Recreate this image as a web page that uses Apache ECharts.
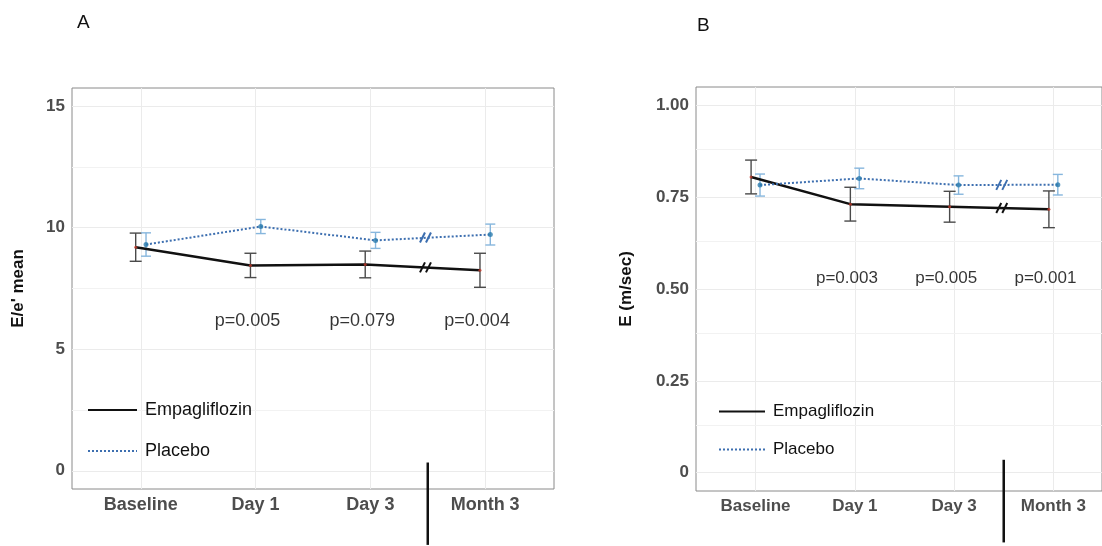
<!DOCTYPE html>
<html><head><meta charset="utf-8">
<script src="https://cdn.jsdelivr.net/npm/echarts@6/dist/echarts.min.js"></script>
<style>html,body{margin:0;padding:0;background:#fff}#c{width:1102px;height:546px}</style>
</head><body><div id="c"></div>
<script>
const categories = ['Baseline', 'Day 1', 'Day 3', 'Month 3'];
const catIdx = [0, 1, 2, 3];
// Panel A: E/e' mean
const empA = [9.2, 8.45, 8.49, 8.25];
const empAErr = [0.58, 0.5, 0.55, 0.7];
const plaA = [9.31, 10.05, 9.48, 9.72];
const plaAErr = [0.48, 0.29, 0.33, 0.43];
const pA = ['p=0.005', 'p=0.079', 'p=0.004'];
const pAy = 6.18;
const yTicksA = [0, 5, 10, 15];
const yMinorA = [2.5, 7.5, 12.5];
const yTickLabelsA = ['0', '5', '10', '15'];
// Panel B: E (m/sec)
const empB = [0.805, 0.731, 0.724, 0.717];
const empBErr = [0.046, 0.046, 0.042, 0.05];
const plaB = [0.783, 0.801, 0.783, 0.784];
const plaBErr = [0.03, 0.028, 0.025, 0.028];
const pB = ['p=0.003', 'p=0.005', 'p=0.001'];
const pBy = 0.53;
const yTicksB = [0, 0.25, 0.5, 0.75, 1.0];
const yMinorB = [0.125, 0.375, 0.625, 0.875];
const yTickLabelsB = ['0', '0.25', '0.50', '0.75', '1.00'];

const DODGE = 0.045;
const BRK = 2.5;
const EMP_C = '#111111', EMP_ERR = '#4a4a4a', EMP_PT = '#c0392b';
const PLA_C = '#3d6fb0', PLA_ERR = '#86b6dd', PLA_PT = '#2a7cae';
const GRIDC = '#ebebeb';
const FONT = 'Liberation Sans, Arial, sans-serif';

function errData(means, errs, off) { return means.map((m, i) => [catIdx[i] + off, m - errs[i], m + errs[i]]); }
function ptData(means, off) { return means.map((m, i) => [catIdx[i] + off, m]); }

function errSeries(idx, means, errs, off, color, half) {
  return {
    type: 'custom', xAxisIndex: idx, yAxisIndex: idx, z: 3, silent: true,
    data: errData(means, errs, off),
    renderItem(params, api) {
      const x = api.value(0), lo = api.value(1), hi = api.value(2);
      const t = api.coord([x, hi]), b = api.coord([x, lo]);
      const st = { stroke: color, lineWidth: 1.4 };
      return { type: 'group', children: [
        { type: 'line', shape: { x1: t[0], y1: t[1], x2: b[0], y2: b[1] }, style: st },
        { type: 'line', shape: { x1: t[0] - half, y1: t[1], x2: t[0] + half, y2: t[1] }, style: st },
        { type: 'line', shape: { x1: b[0] - half, y1: b[1], x2: b[0] + half, y2: b[1] }, style: st }
      ]};
    }
  };
}
function breakSeries(idx, means, color) {
  const y = (means[2] + means[3]) / 2;
  return {
    type: 'custom', xAxisIndex: idx, yAxisIndex: idx, z: 6, silent: true,
    data: [[BRK - 0.02, y]],
    renderItem(params, api) {
      const c = api.coord([api.value(0), api.value(1)]);
      const st = { stroke: color, lineWidth: 2 };
      const ch = [-3, 3].map(d => ({ type: 'line', shape: { x1: c[0] + d - 2.5, y1: c[1] + 5, x2: c[0] + d + 2.5, y2: c[1] - 5 }, style: st }));
      return { type: 'group', children: ch };
    }
  };
}
function gridLines(idx, yMajor, yMinor) {
  const vals = [
    ...catIdx.map(v => ({ xAxis: v })),
    ...yMajor.map(v => ({ yAxis: v })),
    ...yMinor.map(v => ({ yAxis: v, lineStyle: { color: '#f2f2f2', width: 1, type: 'solid' } }))
  ];
  return {
    type: 'line', xAxisIndex: idx, yAxisIndex: idx, data: [], z: 1, silent: true,
    markLine: {
      z: 1, silent: true, symbol: ['none', 'none'], animation: false, label: { show: false },
      lineStyle: { color: GRIDC, width: 1, type: 'solid' },
      emphasis: { disabled: true },
      data: vals
    }
  };
}
function lineSeries(idx, name, means, off, color, type, width) {
  return { type: 'line', name, xAxisIndex: idx, yAxisIndex: idx, z: 4, symbol: 'none',
    data: ptData(means, off), lineStyle: { color, width, type }, itemStyle: { color }, silent: true, animation: false };
}
function pointSeries(idx, means, off, color, size) {
  return { type: 'scatter', xAxisIndex: idx, yAxisIndex: idx, z: 5, symbol: 'circle', symbolSize: size,
    data: ptData(means, off), itemStyle: { color }, silent: true };
}
function pSeries(idx, labels, y, off, fs) {
  return { type: 'scatter', xAxisIndex: idx, yAxisIndex: idx, z: 5, symbolSize: 0, silent: true,
    data: labels.map((t, i) => ({ value: [catIdx[i + 1] + off, y], label: { formatter: t } })),
    label: { show: true, position: 'inside', color: '#000', fontSize: fs, fontFamily: FONT } };
}
function breakLine(idx, top, bottom) {
  return { type: 'line', xAxisIndex: idx, yAxisIndex: idx, z: 6, symbol: 'none', clip: false, silent: true,
    data: [[BRK, top], [BRK, bottom]], lineStyle: { color: '#111', width: 2.5 } };
}
function xAxisCfg(idx, max, fs) {
  return { type: 'value', gridIndex: idx, min: -0.6, max,
    axisLine: { show: false }, splitLine: { show: false },
    axisTick: { show: true, length: 3, lineStyle: { color: '#555' }, customValues: catIdx },
    axisLabel: { customValues: catIdx, formatter: v => categories[Math.round(v)], margin: 7,
      fontSize: fs, fontWeight: 'bold', color: '#4d4d4d', fontFamily: FONT } };
}
function yAxisCfg(idx, min, max, ticks, labels, name, gap, fs) {
  return { type: 'value', gridIndex: idx, min, max,
    name, nameLocation: 'middle', nameRotate: 90, nameGap: gap,
    nameTextStyle: { fontSize: 17, fontWeight: 'bold', color: '#111', fontFamily: FONT },
    axisLine: { show: false }, splitLine: { show: false },
    axisTick: { show: true, length: 3, lineStyle: { color: '#555' }, customValues: ticks },
    axisLabel: { customValues: ticks, formatter: v => labels[ticks.indexOf(v)], margin: 7,
      fontSize: fs, fontWeight: 'bold', color: '#4d4d4d', fontFamily: FONT } };
}
function legendCfg(left, top, w, gap, fs) {
  return { left, top, orient: 'vertical', padding: 0, itemWidth: w, itemHeight: 14, itemGap: gap,
    z: 10, itemStyle: { opacity: 0 },
    textStyle: { fontSize: fs, color: '#111', fontFamily: FONT, padding: [0, 0, 0, 3] },
    data: ['Empagliflozin', 'Placebo'], selectedMode: false };
}

const chart = echarts.init(document.getElementById('c'), null, { renderer: 'canvas' });
chart.setOption({
  animation: false,
  backgroundColor: '#fff',
  title: [
    { text: 'A', left: 72, top: 8, textStyle: { fontSize: 19, fontWeight: 'normal', color: '#111', fontFamily: FONT } },
    { text: 'B', left: 692, top: 11, textStyle: { fontSize: 19, fontWeight: 'normal', color: '#111', fontFamily: FONT } }
  ],
  grid: [
    { left: 72, top: 88, width: 482, height: 401, show: true, borderColor: '#8a8a8a', borderWidth: 1, backgroundColor: '#fff' },
    { left: 696, top: 87, width: 406, height: 404, show: true, borderColor: '#8a8a8a', borderWidth: 1, backgroundColor: '#fff' }
  ],
  xAxis: [xAxisCfg(0, 3.6, 18), xAxisCfg(1, 3.49, 17)],
  yAxis: [
    yAxisCfg(0, -0.75, 15.75, yTicksA, yTickLabelsA, "E/e' mean", 45, 17),
    yAxisCfg(1, -0.05, 1.05, yTicksB, yTickLabelsB, 'E (m/sec)', 61, 17)
  ],
  legend: [legendCfg(87, 401, 49, 23, 18), legendCfg(718, 403, 46, 21, 17)],
  series: [
    gridLines(0, yTicksA, yMinorA),
    gridLines(1, yTicksB, yMinorB),
    lineSeries(0, 'Empagliflozin', empA, -DODGE, EMP_C, 'solid', 2.5),
    lineSeries(0, 'Placebo', plaA, DODGE, PLA_C, 'dotted', 2),
    lineSeries(1, 'Empagliflozin', empB, -DODGE, EMP_C, 'solid', 2.5),
    lineSeries(1, 'Placebo', plaB, DODGE, PLA_C, 'dotted', 2),
    errSeries(0, empA, empAErr, -DODGE, EMP_ERR, 6),
    errSeries(0, plaA, plaAErr, DODGE, PLA_ERR, 5),
    errSeries(1, empB, empBErr, -DODGE, EMP_ERR, 6),
    errSeries(1, plaB, plaBErr, DODGE, PLA_ERR, 5),
    pointSeries(0, empA, -DODGE, EMP_PT, 3),
    pointSeries(0, plaA, DODGE, PLA_PT, 5),
    pointSeries(1, empB, -DODGE, EMP_PT, 3),
    pointSeries(1, plaB, DODGE, PLA_PT, 5),
    breakSeries(0, empA, EMP_C),
    breakSeries(0, plaA, PLA_C),
    breakSeries(1, empB, EMP_C),
    breakSeries(1, plaB, PLA_C),
    pSeries(0, pA, pAy, -0.07, 18),
    pSeries(1, pB, pBy, -0.08, 17),
    breakLine(0, 0.34, -3.05),
    breakLine(1, 0.035, -0.19)
  ]
});
</script></body></html>
